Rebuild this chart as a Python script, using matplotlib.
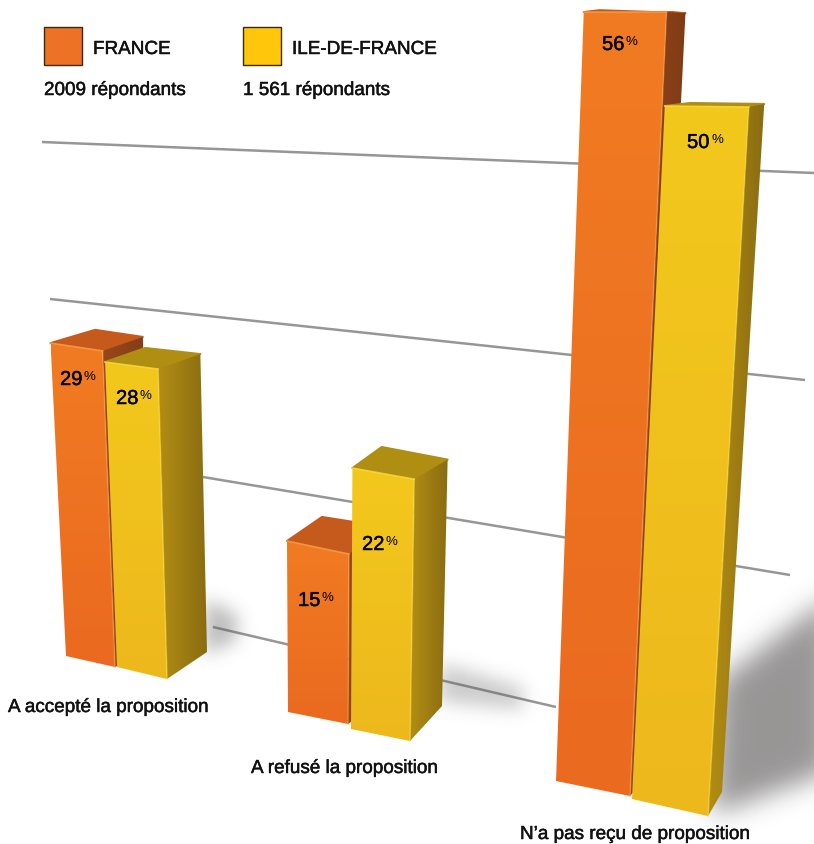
"""French survey chart: pseudo-3D bars, perspective faked with per-corner scales."""
import matplotlib

matplotlib.use("Agg")
import matplotlib.patheffects as pe
import matplotlib.pyplot as plt
import numpy as np
from matplotlib.colors import to_rgb
from matplotlib.patches import Polygon, Rectangle
from matplotlib.path import Path

plt.rcParams["font.family"] = ["Liberation Sans", "DejaVu Sans"]

W, H = 814, 845

# Data
CATEGORIES = ["A accepté la proposition", "A refusé la proposition", "N’a pas reçu de proposition"]
FRANCE = [29, 15, 56]
IDF = [28, 22, 50]
SERIES_NAMES = ["FRANCE", "ILE-DE-FRANCE"]
RESPONDENTS = ["2009 répondants", "1 561 répondants"]

# Layout: base corner (x px, y px, px per percent), in order
# front-left, front-right, back-right, back-left
FRANCE_BASE = [
    [(66, 657, 10.79), (115, 668, 10.9), (153, 650, 10.76), (108, 640, 10.66)],
    [(288, 713, 11.4), (348, 725, 11.33), (383, 700, 11.47), (322, 690, 11.47)],
    [(556, 782, 13.73), (630, 797, 14.0), (647, 778, 13.64), (570, 770, 13.55)],
]
IDF_BASE = [
    [(117, 668, 10.89), (167, 680, 11.07), (207, 653, 10.64), (155, 643, 10.5)],
    [(351, 730, 11.86), (410, 742, 11.9), (442, 707, 11.2), (379, 690, 11.0)],
    [(632, 800, 13.86), (708, 817, 14.18), (722, 793, 13.76), (655, 780, 13.52)],
]
NADIR_X = 320
SPREAD = 0.0021

GRID_LINES = [((42, 143), (814, 174)), ((50, 300), (805, 381)), ((203, 478), (790, 576)), ((213, 628), (556, 708))]
SHADOWS = [
    ([(205, 600), (236, 615), (236, 640), (205, 655)], 9, 0.42),
    ([(440, 664), (522, 688), (522, 710), (440, 702)], 9, 0.32),
    ([(718, 682), (830, 597), (830, 772), (712, 815)], 13, 0.64),
]

# Label anchors: number x, number baseline
FRANCE_LABELS = [(60, 386), (298, 607), (602, 51)]
IDF_LABELS = [(116, 405), (362, 551), (687, 149)]
CATEGORY_POS = [(8, 713), (251, 774), (520, 840)]
LEGEND_X = [44, 243]

ORANGE = {"front": ("#F17B22", "#EA6A20"), "top": "#C65A1C", "side": ("#98481A", "#7F3B16"), "edge": "#F9A04A"}
YELLOW = {"front": ("#F3C81C", "#EDB81C"), "top": "#B08E12", "side": ("#B38E14", "#8A6C12"), "edge": "#F8DC40"}

MEDIUM = [pe.withStroke(linewidth=0.35, foreground="#111111")]


def project(corners, value):
    """Top corners of a bar: higher values rise and spread from the nadir."""
    return [(x + (x - NADIR_X) * SPREAD * value, y - s * value) for x, y, s in corners]


def gradient_face(ax, pts, c0, c1, horizontal=False):
    """Polygon filled with a linear gradient, clipped through imshow."""
    pts = np.array(pts)
    t = np.linspace(0, 1, 64)[:, None]
    img = (1 - t) * np.array(to_rgb(c0)) + t * np.array(to_rgb(c1))
    img = img[None, :, :] if horizontal else img[:, None, :]
    x0, y0 = pts.min(axis=0)
    x1, y1 = pts.max(axis=0)
    im = ax.imshow(img, extent=(x0, x1, y1, y0), aspect="auto", interpolation="bilinear", zorder=3)
    patch = Polygon(pts, closed=True, transform=ax.transData, fc="none", ec="none")
    ax.add_patch(patch)
    im.set_clip_path(patch)


def draw_bar(ax, corners, value, style):
    base = [(x, y) for x, y, _ in corners]
    top = project(corners, value)
    fl, fr, br, bl = top
    ax.add_patch(Polygon([fl, fr, br, bl], closed=True, fc=style["top"], ec=style["top"], lw=1.5, joinstyle="round", zorder=3))
    gradient_face(ax, [fr, br, base[2], base[1]], *style["side"], horizontal=True)
    gradient_face(ax, [fl, fr, base[1], base[0]], *style["front"])
    # thin highlights along the bevelled front edges
    ax.plot([fl[0], fr[0]], [fl[1], fr[1]], color=style["edge"], lw=1.2, alpha=0.8, zorder=3)
    ax.plot([fr[0], base[1][0]], [fr[1], base[1][1]], color=style["edge"], lw=1.2, alpha=0.5, zorder=3)


def draw_shadow(ax, pts, sigma, alpha):
    """Gaussian-blurred grey polygon, computed on a padded canvas."""
    size = 1024
    yy, xx = np.mgrid[0:size, 0:size]
    mask = Path(pts).contains_points(np.c_[xx.ravel(), yy.ravel()]).reshape(size, size).astype(float)
    fx = np.fft.fftfreq(size)[None, :]
    fy = np.fft.fftfreq(size)[:, None]
    blur = np.exp(-2 * (np.pi * sigma) ** 2 * (fx**2 + fy**2))
    soft = np.fft.ifft2(np.fft.fft2(mask) * blur).real[:H, :W]
    rgba = np.zeros((H, W, 4))
    rgba[..., :3] = to_rgb("#5E5A5A")
    rgba[..., 3] = np.clip(soft, 0, 1) * alpha
    ax.imshow(rgba, extent=(0, W, H, 0), aspect="auto", interpolation="bilinear", zorder=2)


def value_label(ax, x, y, value):
    ax.text(x, y, str(value), fontsize=14.5, va="baseline", ha="left", color="black", zorder=5, path_effects=MEDIUM)
    ax.text(x + 24, y - 6, "%", fontsize=9.5, va="baseline", ha="left", color="black", zorder=5)


def label(ax, x, y, text):
    ax.text(x, y, text, fontsize=13.6, color="#111111", va="baseline", zorder=5, path_effects=MEDIUM)


fig = plt.figure(figsize=(W / 100, H / 100), dpi=100)
ax = fig.add_axes([0, 0, 1, 1])

for (x0, y0), (x1, y1) in GRID_LINES:
    ax.plot([x0, x1], [y0, y1], color="#969696", lw=1.8, zorder=1, solid_capstyle="butt")

for pts, sigma, alpha in SHADOWS:
    draw_shadow(ax, pts, sigma, alpha)

for i in range(len(CATEGORIES)):
    draw_bar(ax, FRANCE_BASE[i], FRANCE[i], ORANGE)
    draw_bar(ax, IDF_BASE[i], IDF[i], YELLOW)
    value_label(ax, *FRANCE_LABELS[i], FRANCE[i])
    value_label(ax, *IDF_LABELS[i], IDF[i])
    label(ax, *CATEGORY_POS[i], CATEGORIES[i])

# Legend
for x, color, name, resp in zip(LEGEND_X, ["#EE7226", "#FFC60B"], SERIES_NAMES, RESPONDENTS):
    ax.add_patch(Rectangle((x, 28), 38, 38, fc=color, ec="#3A2A10", lw=1, zorder=4))
    label(ax, x + 49, 55, name)
    label(ax, x, 96, resp)

ax.set_xlim(0, W)
ax.set_ylim(H, 0)
ax.axis("off")
fig.savefig("out.png", dpi=100, facecolor="white")
